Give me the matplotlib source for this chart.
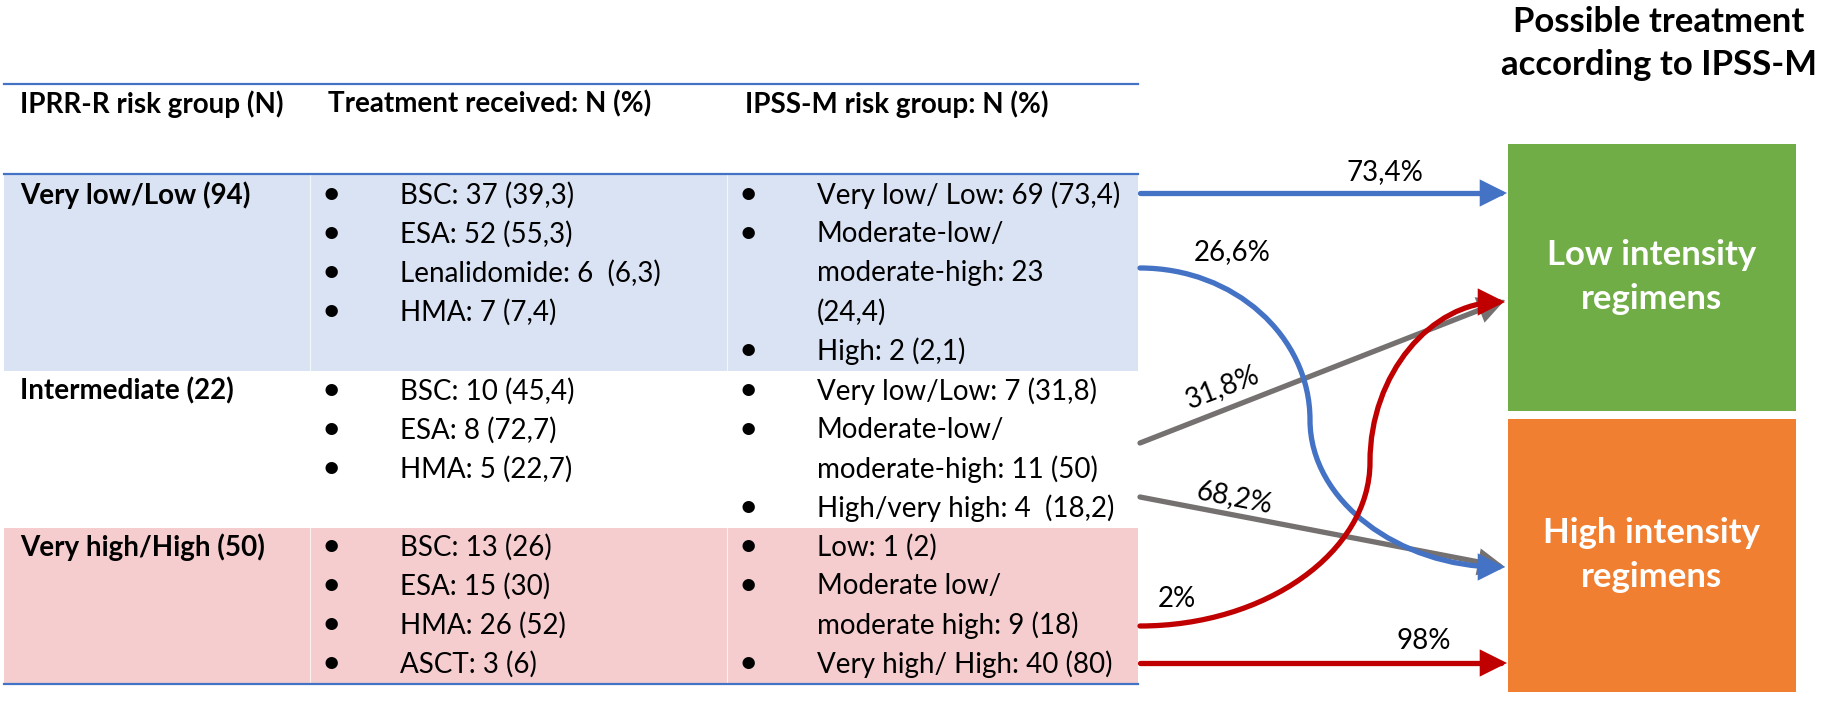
import matplotlib
matplotlib.use("Agg")
import matplotlib.pyplot as plt
from matplotlib.patches import Rectangle, FancyArrowPatch
from matplotlib.path import Path

plt.rcParams['font.family'] = ['Lato', 'DejaVu Sans']

# ---- data ----
headers = ['IPRR-R risk group (N)', 'Treatment received: N (%)', 'IPSS-M risk group: N (%)']
risk_groups = ['Very low/Low (94)', 'Intermediate (22)', 'Very high/High (50)']
treatments = [
    ['BSC: 37 (39,3)', 'ESA: 52 (55,3)', 'Lenalidomide: 6  (6,3)', 'HMA: 7 (7,4)'],
    ['BSC: 10 (45,4)', 'ESA: 8 (72,7)', 'HMA: 5 (22,7)'],
    ['BSC: 13 (26)', 'ESA: 15 (30)', 'HMA: 26 (52)', 'ASCT: 3 (6)'],
]
# each item: list of wrapped lines (bullet on the first one)
ipssm = [
    [['Very low/ Low: 69 (73,4)'], ['Moderate-low/', 'moderate-high: 23', '(24,4)'], ['High: 2 (2,1)']],
    [['Very low/Low: 7 (31,8)'], ['Moderate-low/', 'moderate-high: 11 (50)'], ['High/very high: 4  (18,2)']],
    [['Low: 1 (2)'], ['Moderate low/', 'moderate high: 9 (18)'], ['Very high/ High: 40 (80)']],
]
targets = ['Low intensity\nregimens', 'High intensity\nregimens']
flow_pct = [73.4, 26.6, 31.8, 68.2, 2, 98]

def pct(v):
    return (f'{v:g}').replace('.', ',') + '%'

# ---- layout (pixel coordinates) ----
W, H = 1824, 704
fig = plt.figure(figsize=(W / 100, H / 100), dpi=100)
ax = fig.add_axes([0, 0, 1, 1])
ax.set_xlim(0, W)
ax.set_ylim(H, 0)
ax.axis('off')

tbl_l, tbl_r = 4, 1138
col_x = [20, 310, 727]
bullet_dx, text_dx = 21, 90
row_top = [174, 371, 528]
row_bot = [371, 528, 684]
row_bg = ['#DAE3F3', 'white', '#F5CDCE']
first_line = [195, 391, 547]
lh = 39

blue, red, grey = '#4472C4', '#C00000', '#767171'
fs = 20

for i in range(3):
    ax.add_patch(Rectangle((tbl_l, row_top[i]), tbl_r - tbl_l, row_bot[i] - row_top[i],
                           facecolor=row_bg[i], edgecolor='none', zorder=0))
    if row_bg[i] != 'white':
        for cx in col_x[1:]:
            ax.plot([cx, cx], [row_top[i], row_bot[i]], color='white', lw=0.8, alpha=0.7, zorder=1)

for y in [84, 174, 684]:
    ax.plot([tbl_l, tbl_r], [y, y], color=blue, lw=1.6, zorder=2)

for j, h in enumerate(headers):
    ax.text(col_x[0] if j == 0 else col_x[j] + 18, 104, h, fontsize=fs, fontweight='bold',
            va='center', ha='left')

for i in range(3):
    y0 = first_line[i]
    ax.text(col_x[0], y0, risk_groups[i], fontsize=fs, fontweight='bold', va='center')
    for k, t in enumerate(treatments[i]):
        y = y0 + k * lh
        ax.text(col_x[1] + bullet_dx, y, '\u2022', fontsize=fs + 4, va='center', ha='center')
        ax.text(col_x[1] + text_dx, y, t, fontsize=fs, va='center')
    n = 0
    for item in ipssm[i]:
        for m, line in enumerate(item):
            y = y0 + n * lh
            if m == 0:
                ax.text(col_x[2] + bullet_dx, y, '\u2022', fontsize=fs + 4, va='center', ha='center')
            ax.text(col_x[2] + text_dx, y, line, fontsize=fs, va='center')
            n += 1

# target boxes
ax.add_patch(Rectangle((1508, 144), 288, 267, facecolor='#70AD47', edgecolor='none'))
ax.add_patch(Rectangle((1508, 419), 288, 273, facecolor='#F07F32', edgecolor='none'))
for cy, t in zip([277, 555], targets):
    l1, l2 = t.split('\n')
    ax.text(1652, cy - 22, l1, fontsize=25, fontweight='bold', color='white', ha='center', va='center')
    ax.text(1652, cy + 22, l2, fontsize=25, fontweight='bold', color='white', ha='center', va='center')

ax.text(1659, 22, 'Possible treatment', fontsize=25, fontweight='bold', ha='center', va='center')
ax.text(1659, 65, 'according to IPSS-M', fontsize=25, fontweight='bold', ha='center', va='center')

# flows
def arrow(verts, codes, color, z, lw=3.8):
    p = FancyArrowPatch(path=Path(verts, codes), arrowstyle='-|>,head_length=0.9,head_width=0.45',
                        mutation_scale=15, color=color, lw=lw, zorder=z, joinstyle='miter')
    ax.add_patch(p)

L, C = Path.LINETO, Path.CURVE4
M = Path.MOVETO
arrow([(1140, 443), (1505, 300)], [M, L], grey, 3)
arrow([(1140, 497), (1505, 567)], [M, L], grey, 3)
arrow([(1140, 193), (1507, 193)], [M, L], blue, 4)
arrow([(1140, 268), (1234, 268), (1310, 336), (1310, 420),
       (1310, 501), (1399, 567), (1505, 567)], [M, C, C, C, C, C, C], blue, 4)
arrow([(1140, 663), (1507, 663)], [M, L], red, 5)
arrow([(1140, 626), (1266, 626), (1370, 552), (1370, 462),
       (1370, 374), (1431, 302), (1505, 302)], [M, C, C, C, C, C, C], red, 5)

lab_pos = [(1385, 172, 0), (1232, 252, 0), (1222, 387, 21), (1235, 498, -11), (1177, 599, 0), (1424, 641, 0)]
for v, (x, y, r) in zip(flow_pct, lab_pos):
    ax.text(x, y, pct(v), fontsize=fs, ha='center', va='center', rotation=r, zorder=6)

fig.savefig('out.png', dpi=100, facecolor='white')
